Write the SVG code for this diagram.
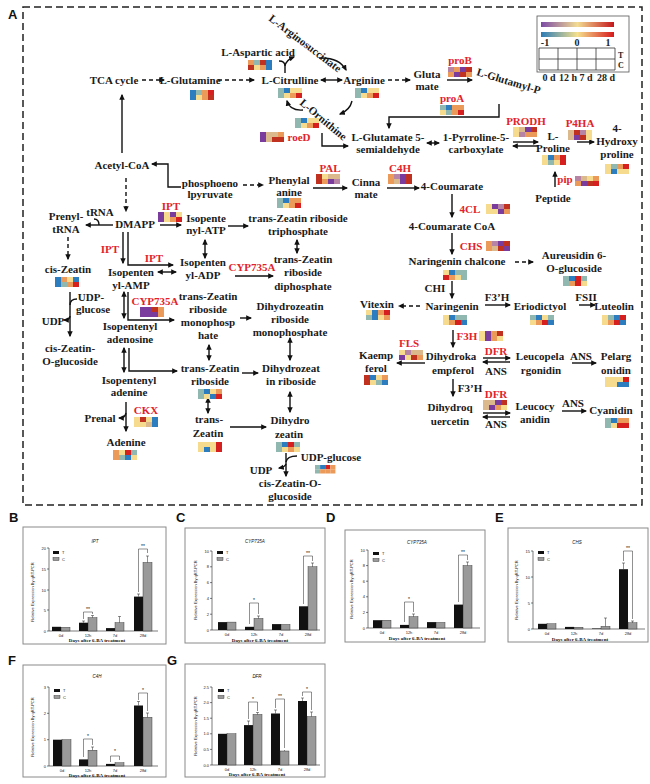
<svg xmlns="http://www.w3.org/2000/svg" width="650" height="784" viewBox="0 0 650 784">
<defs>
<style>
.n{font-family:"Liberation Serif",serif;font-weight:bold;font-size:11px;text-anchor:middle;fill:#1a1a1a}
.e{fill:#e3232b}
.hm rect{width:6px;height:5px}
.cb{fill:#2b7dc0}.ct{fill:#91b8b0}.cy{fill:#f6da8e}.co{fill:#eb9a5a}.cr{fill:#d61f1f}
.cp{fill:#7a3d9e}.cm{fill:#b784a5}.cn{fill:#dcb98c}.cd{fill:#c0311f}
.c{fill:none;stroke:#111;stroke-width:1.4}
.d{stroke-dasharray:4 3}
.ae{marker-end:url(#a)}
.as{marker-start:url(#a)}
.frame{fill:none;stroke:#222;stroke-width:1.5;stroke-dasharray:7 4}
.box{fill:#fff;stroke:#8a8a8a;stroke-width:1}
.ax{fill:none;stroke:#222;stroke-width:0.6}
.bt{fill:#111}
.bc{fill:#9a9a9a;stroke:#222;stroke-width:0.4}
.er{fill:none;stroke:#222;stroke-width:0.5}
.tk{font-family:"Liberation Sans",sans-serif;font-size:4px;fill:#222}
.tkr{text-anchor:end}
.tkm{text-anchor:middle}
.ti{font-family:"Liberation Sans",sans-serif;font-style:italic;font-size:4.5px;text-anchor:middle;fill:#111}
.xt{font-family:"Liberation Serif",serif;font-weight:bold;font-size:5px;text-anchor:middle;fill:#111}
.st{font-family:"Liberation Sans",sans-serif;font-size:5px;text-anchor:middle;fill:#111}
.pl{font-family:"Liberation Sans",sans-serif;font-weight:bold;font-size:13px;fill:#111}
.lg{font-family:"Liberation Serif",serif;font-weight:bold;font-size:10px;fill:#222}
.lgs{font-family:"Liberation Serif",serif;font-weight:bold;font-size:8px;fill:#222}
</style>
<marker id="a" viewBox="0 0 10 10" refX="8" refY="5" markerUnits="userSpaceOnUse" markerWidth="6" markerHeight="6" orient="auto-start-reverse"><path d="M0,0.5 L10,5 L0,9.5 z" fill="#111"/></marker>
<linearGradient id="g1" x1="0" x2="1" y1="0" y2="0"><stop offset="0" stop-color="#7b4aa6"/><stop offset="0.5" stop-color="#f3dc92"/><stop offset="1" stop-color="#c4161c"/></linearGradient>
<linearGradient id="g2" x1="0" x2="1" y1="0" y2="0"><stop offset="0" stop-color="#2c7bb6"/><stop offset="0.5" stop-color="#f5e08c"/><stop offset="1" stop-color="#d7191c"/></linearGradient>
</defs>
<rect width="650" height="784" fill="#fff"/>

<text class="pl" x="8" y="19">A</text>
<rect class="frame" x="23" y="7" width="619" height="498"/>

<g id="legend">
<rect x="537" y="16" width="92" height="56" fill="#fff" stroke="#555" stroke-width="0.8"/>
<rect x="541" y="22" width="73" height="5" fill="url(#g1)"/>
<rect x="541" y="32" width="73" height="5" fill="url(#g2)"/>
<text class="lg" x="545" y="46" text-anchor="middle">-1</text>
<text class="lg" x="577" y="46" text-anchor="middle">0</text>
<text class="lg" x="608" y="46" text-anchor="middle">1</text>
<path d="M539,48 H615 V70 H539 Z M539,59 H615 M558,48 V70 M577,48 V70 M596,48 V70" fill="none" stroke="#333" stroke-width="0.8"/>
<text class="lgs" x="618" y="58">T</text>
<text class="lgs" x="618" y="68">C</text>
<text class="lg" x="549" y="81" text-anchor="middle">0 d</text>
<text class="lg" x="568" y="81" text-anchor="middle">12 h</text>
<text class="lg" x="586" y="81" text-anchor="middle">7 d</text>
<text class="lg" x="606" y="81" text-anchor="middle">28 d</text>
</g>

<g id="connectors">
<path class="c d ae" d="M142,80 H164"/>
<path class="c d ae" d="M218,80 H254"/>
<path class="c as ae" d="M321,80 H342"/>
<path class="c d ae" d="M388,80 H410"/>
<path class="c ae" d="M447,80 H472"/>
<path class="c ae" d="M499,104 V117 H389 V128"/>
<path class="c ae" d="M122,153 V95"/>
<path class="c ae" d="M181,187 H168 V164 H152"/>
<path class="c d ae" d="M126,178 V211"/>
<path class="c d ae" d="M243,185 H263"/>
<path class="c ae" d="M313,188 H347"/>
<path class="c ae" d="M387,188 H419"/>
<path class="c ae" d="M452,194 V217"/>
<path class="c ae" d="M452,233 V254"/>
<path class="c d ae" d="M515,262 H533"/>
<path class="c ae" d="M452,281 V298"/>
<path class="c ae" d="M485,305 H510"/>
<path class="c ae" d="M579,305 H595"/>
<path class="c d ae" d="M420,306 H399"/>
<path class="c ae" d="M453,330 V347"/>
<path class="c ae" d="M425,363 H397"/>
<path class="c ae" d="M483,358 H510"/>
<path class="c ae" d="M510,362 H483"/>
<path class="c ae" d="M572,363 H596"/>
<path class="c ae" d="M453,379 V396"/>
<path class="c ae" d="M483,413 H510"/>
<path class="c ae" d="M510,417 H483"/>
<path class="c ae" d="M562,411 H586"/>
<path class="c ae" d="M555,187 V172"/>
<path class="c ae" d="M577,142 H594"/>
<path class="c ae" d="M513,142 H538"/>
<path class="c ae" d="M538,146 H513"/>
<path class="c as ae" d="M427,143 H439"/>
<path class="c ae" d="M322,133 V146 H348"/>
<path class="c ae" d="M319,58 Q339,57 346,70"/>
<path class="c ae" d="M352,101 Q350,110 340,114"/>
<path class="c ae" d="M303,110 Q290,111 287,101"/>
<path class="c" d="M285,73 V66 M279,61 Q285,61 285,66"/>
<path class="c ae" d="M285,66 Q286,60 294,57"/>
<path class="c ae" d="M113,225 H86"/>
<path class="c" d="M94,219 Q99,219 99,225"/>
<path class="c d ae" d="M68,237 V259"/>
<path class="c ae" d="M160,225 H181"/>
<path class="c ae" d="M228,226 H248"/>
<path class="c as ae" d="M205,240 V258"/>
<path class="c as ae" d="M297,240 V253"/>
<path class="c ae" d="M235,276 H273"/>
<path class="c ae" d="M123,232 V263"/>
<path class="c ae" d="M128,232 V265 H173"/>
<path class="c as ae" d="M158,272 H176"/>
<path class="c as ae" d="M124,292 V318"/>
<path class="c ae" d="M128,292 V320 H174"/>
<path class="c ae" d="M240,318 H251"/>
<path class="c ae" d="M70,292 V336"/>
<path class="c" d="M77,299 Q70,299 70,305"/>
<path class="c ae" d="M70,316 Q70,320 64,320"/>
<path class="c as ae" d="M124,348 V372"/>
<path class="c ae" d="M129,348 V371 H177"/>
<path class="c as ae" d="M209,345 V360"/>
<path class="c ae" d="M242,373 H258"/>
<path class="c as ae" d="M290,338 V360"/>
<path class="c as ae" d="M208,398 V413"/>
<path class="c as ae" d="M290,392 V412"/>
<path class="c ae" d="M230,427 H266"/>
<path class="c ae" d="M126,402 V431"/>
<path class="c ae" d="M126,413 Q125,418 119,418"/>
<path class="c ae" d="M286,453 V476"/>
<path class="c" d="M297,456 Q287,456 286,462"/>
<path class="c ae" d="M286,464 Q285,467 279,468"/>
</g>

<g id="n-tca"><text class="n" x="114" y="84">TCA cycle</text></g>
<g id="n-gln"><text class="n" x="190" y="84">L-Glutamine</text>
<g class="hm" transform="translate(190,90)"><rect class="cb"/><rect x="6" class="ct"/><rect x="12" class="co"/><rect x="18" class="cr"/><rect y="5" class="cb"/><rect x="6" y="5" class="cy"/><rect x="12" y="5" class="co"/><rect x="18" y="5" class="cd"/></g></g>
<g id="n-asp"><text class="n" x="258" y="56">L-Aspartic acid</text>
<g class="hm" transform="translate(248,60)"><rect class="co"/><rect x="6" class="ct"/><rect x="12" class="cd"/><rect x="18" class="cb"/><rect y="5" class="cd"/><rect x="6" y="5" class="cy"/><rect x="12" y="5" class="co"/><rect x="18" y="5" class="cb"/></g></g>
<g id="n-argsucc"><text class="n" style="text-anchor:start" transform="translate(268,20) rotate(37)">L-Arginosuccinate</text></g>
<g id="n-cit"><text class="n" x="290" y="84">L-Citrulline</text>
<g class="hm" transform="translate(278,88)"><rect class="ct"/><rect x="6" class="cb"/><rect x="12" class="cy"/><rect x="18" class="cy"/><rect y="5" class="ct"/><rect x="6" y="5" class="cy"/><rect x="12" y="5" class="co"/><rect x="18" y="5" class="cr"/></g></g>
<g id="n-arg"><text class="n" x="364" y="84">Arginine</text>
<g class="hm" transform="translate(355,88)"><rect class="ct"/><rect x="6" class="cb"/><rect x="12" class="cy"/><rect x="18" class="cy"/><rect y="5" class="ct"/><rect x="6" y="5" class="cy"/><rect x="12" y="5" class="co"/><rect x="18" y="5" class="cr"/></g></g>
<g id="n-orn"><text class="n" style="text-anchor:start" transform="translate(299,104) rotate(40)">L-Ornithine</text>
<g class="hm" transform="translate(295,118)"><rect class="ct"/><rect x="6" class="cb"/><rect x="12" class="cy"/><rect x="18" class="cy"/><rect y="5" class="ct"/><rect x="6" y="5" class="cy"/><rect x="12" y="5" class="co"/><rect x="18" y="5" class="cr"/></g></g>
<g id="e-roed"><text class="n e" x="299" y="141">roeD</text>
<g class="hm" transform="translate(260,132)"><rect class="cp"/><rect x="6" class="cn"/><rect x="12" class="cn"/><rect x="18" class="co"/><rect y="5" class="cp"/><rect x="6" y="5" class="cn"/><rect x="12" y="5" class="cd"/><rect x="18" y="5" class="cd"/></g></g>
<g id="n-glu"><text class="n" x="427" y="78">Gluta</text><text class="n" x="427" y="90">mate</text></g>
<g id="e-prob"><text class="n e" x="460" y="64">proB</text>
<g class="hm" transform="translate(448,67)"><rect class="cm"/><rect x="6" class="co"/><rect x="12" class="cp"/><rect x="18" class="cd"/><rect y="5" class="co"/><rect x="6" y="5" class="cp"/><rect x="12" y="5" class="cd"/><rect x="18" y="5" class="co"/></g></g>
<g id="n-glutp"><text class="n" style="text-anchor:start" transform="translate(476,75) rotate(17)">L-Glutamyl-P</text></g>
<g id="e-proa"><text class="n e" x="452" y="102">proA</text>
<g class="hm" transform="translate(440,105)"><rect class="ct"/><rect x="6" class="cb"/><rect x="12" class="co"/><rect x="18" class="co"/><rect y="5" class="cy"/><rect x="6" y="5" class="ct"/><rect x="12" y="5" class="co"/><rect x="18" y="5" class="cr"/></g></g>
<g id="n-gsa"><text class="n" x="388" y="141">L-Glutamate 5-</text><text class="n" x="388" y="153">semialdehyde</text></g>
<g id="n-p5c"><text class="n" x="476" y="141">1-Pyrroline-5-</text><text class="n" x="476" y="153">carboxylate</text></g>
<g id="e-prodh"><text class="n e" x="526" y="125">PRODH</text>
<g class="hm" transform="translate(513,127)"><rect class="cy"/><rect x="6" class="cn"/><rect x="12" class="cp"/><rect x="18" class="cd"/><rect y="5" class="cy"/><rect x="6" y="5" class="cm"/><rect x="12" y="5" class="co"/><rect x="18" y="5" class="co"/></g></g>
<g id="n-pro"><text class="n" x="553" y="140">L-</text><text class="n" x="553" y="152">Proline</text>
<g class="hm" transform="translate(542,155)"><rect class="cy"/><rect x="6" class="cb"/><rect x="12" class="co"/><rect x="18" class="cr"/><rect y="5" class="cy"/><rect x="6" y="5" class="ct"/><rect x="12" y="5" class="cy"/><rect x="18" y="5" class="cr"/></g></g>
<g id="e-p4ha"><text class="n e" x="580" y="127">P4HA</text>
<g class="hm" transform="translate(568,130)"><rect class="cn"/><rect x="6" class="cd"/><rect x="12" class="cm"/><rect x="18" class="cy"/><rect y="5" class="cn"/><rect x="6" y="5" class="cp"/><rect x="12" y="5" class="cd"/><rect x="18" y="5" class="cy"/></g></g>
<g id="n-hyp"><text class="n" x="617" y="132">4-</text><text class="n" x="617" y="145">Hydroxy</text><text class="n" x="617" y="158">proline</text>
<g class="hm" transform="translate(605,164)"><rect class="cy"/><rect x="6" class="ct"/><rect x="12" class="co"/><rect x="18" class="cr"/><rect y="5" class="cy"/><rect x="6" y="5" class="cb"/><rect x="12" y="5" class="cy"/><rect x="18" y="5" class="cy"/></g></g>
<g id="e-pip"><text class="n e" x="565" y="183">pip</text>
<g class="hm" transform="translate(575,176)"><rect class="cm"/><rect x="6" class="cn"/><rect x="12" class="cy"/><rect x="18" class="co"/><rect y="5" class="co"/><rect x="6" y="5" class="cp"/><rect x="12" y="5" class="cd"/><rect x="18" y="5" class="cr"/></g></g>
<g id="n-pep"><text class="n" x="553" y="202">Peptide</text></g>

<g id="n-acoa"><text class="n" x="122" y="169">Acetyl-CoA</text></g>
<g id="n-pepyr"><text class="n" x="210" y="187">phosphoeno</text><text class="n" x="210" y="198">lpyruvate</text></g>
<g id="n-phe"><text class="n" x="289" y="184">Phenylal</text><text class="n" x="289" y="196">anine</text>
<g class="hm" transform="translate(277,198)"><rect class="ct"/><rect x="6" class="cb"/><rect x="12" class="co"/><rect x="18" class="co"/><rect y="5" class="ct"/><rect x="6" y="5" class="cy"/><rect x="12" y="5" class="co"/><rect x="18" y="5" class="cr"/></g></g>
<g id="e-pal"><text class="n e" x="330" y="172">PAL</text>
<g class="hm" transform="translate(316,174)"><rect class="cd"/><rect x="6" class="cy"/><rect x="12" class="cn"/><rect x="18" class="cn"/><rect y="5" class="cd"/><rect x="6" y="5" class="co"/><rect x="12" y="5" class="cp"/><rect x="18" y="5" class="cm"/></g></g>
<g id="n-cin"><text class="n" x="366" y="186">Cinna</text><text class="n" x="366" y="198">mate</text></g>
<g id="e-c4h"><text class="n e" x="400" y="172">C4H</text>
<g class="hm" transform="translate(388,174)"><rect class="co"/><rect x="6" class="cm"/><rect x="12" class="cp"/><rect x="18" class="cd"/><rect y="5" class="co"/><rect x="6" y="5" class="cn"/><rect x="12" y="5" class="cp"/><rect x="18" y="5" class="cd"/></g></g>
<g id="n-cou"><text class="n" x="452" y="190">4-Coumarate</text></g>
<g id="e-4cl"><text class="n e" x="470" y="213">4CL</text>
<g class="hm" transform="translate(486,204)"><rect class="cy"/><rect x="6" class="cp"/><rect x="12" class="cm"/><rect x="18" class="cd"/><rect y="5" class="cy"/><rect x="6" y="5" class="cy"/><rect x="12" y="5" class="cp"/><rect x="18" y="5" class="co"/></g></g>
<g id="n-coucoa"><text class="n" x="452" y="230">4-Coumarate CoA</text></g>
<g id="e-chs"><text class="n e" x="471" y="250">CHS</text>
<g class="hm" transform="translate(486,241)"><rect class="co"/><rect x="6" class="cm"/><rect x="12" class="cp"/><rect x="18" class="cd"/><rect y="5" class="co"/><rect x="6" y="5" class="cn"/><rect x="12" y="5" class="cd"/><rect x="18" y="5" class="cp"/></g></g>
<g id="n-narch"><text class="n" x="457" y="265">Naringenin chalcone</text>
<g class="hm" transform="translate(443,270)"><rect class="cy"/><rect x="6" class="cb"/><rect x="12" class="ct"/><rect x="18" class="ct"/><rect y="5" class="cr"/><rect x="6" y="5" class="co"/><rect x="12" y="5" class="cy"/><rect x="18" y="5" class="ct"/></g></g>
<g id="n-aur"><text class="n" x="574" y="259">Aureusidin 6-</text><text class="n" x="574" y="272">O-glucoside</text>
<g class="hm" transform="translate(563,276)"><rect class="ct"/><rect x="6" class="cb"/><rect x="12" class="cr"/><rect x="18" class="ct"/><rect y="5" class="ct"/><rect x="6" y="5" class="co"/><rect x="12" y="5" class="cr"/><rect x="18" y="5" class="cy"/></g></g>
<g id="e-chi"><text class="n" x="435" y="292">CHI</text></g>
<g id="n-nar"><text class="n" x="452" y="310">Naringenin</text>
<g class="hm" transform="translate(443,315)"><rect class="cy"/><rect x="6" class="cb"/><rect x="12" class="ct"/><rect x="18" class="ct"/><rect y="5" class="cy"/><rect x="6" y="5" class="co"/><rect x="12" y="5" class="cr"/><rect x="18" y="5" class="cb"/></g></g>
<g id="e-f3h1"><text class="n" x="497" y="301">F3’H</text></g>
<g id="n-eri"><text class="n" x="540" y="310">Eriodictyol</text>
<g class="hm" transform="translate(530,315)"><rect class="ct"/><rect x="6" class="cb"/><rect x="12" class="cy"/><rect x="18" class="ct"/><rect y="5" class="cy"/><rect x="6" y="5" class="co"/><rect x="12" y="5" class="cr"/><rect x="18" y="5" class="cb"/></g></g>
<g id="e-fsii"><text class="n" x="586" y="301">FSII</text></g>
<g id="n-lut"><text class="n" x="614" y="310">Luteolin</text>
<g class="hm" transform="translate(602,315)"><rect class="cy"/><rect x="6" class="ct"/><rect x="12" class="cb"/><rect x="18" class="cr"/><rect y="5" class="cy"/><rect x="6" y="5" class="co"/><rect x="12" y="5" class="cr"/><rect x="18" y="5" class="cb"/></g></g>
<g id="n-vit"><text class="n" x="377" y="308">Vitexin</text>
<g class="hm" transform="translate(366,310)"><rect class="cy"/><rect x="6" class="cb"/><rect x="12" class="co"/><rect x="18" class="cr"/><rect y="5" class="ct"/><rect x="6" y="5" class="cb"/><rect x="12" y="5" class="cy"/><rect x="18" y="5" class="co"/></g></g>
<g id="e-f3h"><text class="n e" x="467" y="340">F3H</text>
<g class="hm" transform="translate(479,331)"><rect class="cy"/><rect x="6" class="cp"/><rect x="12" class="co"/><rect x="18" class="cd"/><rect y="5" class="cy"/><rect x="6" y="5" class="cp"/><rect x="12" y="5" class="co"/><rect x="18" y="5" class="cy"/></g></g>
<g id="n-dhk"><text class="n" x="451" y="360">Dihydroka</text><text class="n" x="453" y="374">empferol</text></g>
<g id="e-fls"><text class="n e" x="409" y="347">FLS</text>
<g class="hm" transform="translate(399,350)"><rect class="cy"/><rect x="6" class="cm"/><rect x="12" class="cn"/><rect x="18" class="cn"/><rect y="5" class="cp"/><rect x="6" y="5" class="cy"/><rect x="12" y="5" class="cd"/><rect x="18" y="5" class="co"/></g></g>
<g id="n-kae"><text class="n" x="376" y="359">Kaemp</text><text class="n" x="376" y="372">ferol</text>
<g class="hm" transform="translate(364,375)"><rect class="cd"/><rect x="6" class="cb"/><rect x="12" class="cy"/><rect x="18" class="co"/><rect y="5" class="cd"/><rect x="6" y="5" class="cy"/><rect x="12" y="5" class="ct"/><rect x="18" y="5" class="cb"/></g></g>
<g id="e-dfr1"><text class="n e" x="496" y="355">DFR</text><text class="n" x="496" y="375">ANS</text></g>
<g id="n-leupel"><text class="n" x="540" y="360">Leucopela</text><text class="n" x="541" y="374">rgonidin</text></g>
<g id="e-ans1"><text class="n" x="581" y="360">ANS</text></g>
<g id="n-pel"><text class="n" x="616" y="360">Pelarg</text><text class="n" x="616" y="374">onidin</text>
<g class="hm" transform="translate(605,377)"><rect class="cy"/><rect x="6" class="cy"/><rect x="12" class="cy"/><rect x="18" class="cr"/><rect y="5" class="cy"/><rect x="6" y="5" class="cy"/><rect x="12" y="5" class="cb"/><rect x="18" y="5" class="cb"/></g></g>
<g id="e-f3h2"><text class="n" x="470" y="392">F3’H</text></g>
<g id="n-dhq"><text class="n" x="450" y="411">Dihydroq</text><text class="n" x="450" y="425">uercetin</text></g>
<g id="e-dfr2"><text class="n e" x="496" y="398">DFR</text><text class="n" x="496" y="428">ANS</text>
<g class="hm" transform="translate(483,400)"><rect class="cn"/><rect x="6" class="cn"/><rect x="12" class="cp"/><rect x="18" class="cd"/><rect y="5" class="cn"/><rect x="6" y="5" class="cp"/><rect x="12" y="5" class="co"/><rect x="18" y="5" class="cy"/></g></g>
<g id="n-leucya"><text class="n" x="535" y="410">Leucocy</text><text class="n" x="535" y="423">anidin</text></g>
<g id="e-ans2"><text class="n" x="573" y="407">ANS</text></g>
<g id="n-cya"><text class="n" x="611" y="414">Cyanidin</text>
<g class="hm" transform="translate(605,418)"><rect class="ct"/><rect x="6" class="cb"/><rect x="12" class="co"/><rect x="18" class="co"/><rect y="5" class="ct"/><rect x="6" y="5" class="cy"/><rect x="12" y="5" class="cr"/><rect x="18" y="5" class="cr"/></g></g>

<g id="n-dmapp"><text class="n" x="135" y="228">DMAPP</text></g>
<g id="n-prtrna"><text class="n" x="66" y="220">Prenyl-</text><text class="n" x="66" y="233">tRNA</text></g>
<g id="n-trna"><text class="n" x="100" y="216">tRNA</text></g>
<g id="n-cisz"><text class="n" x="68" y="273">cis-Zeatin</text>
<g class="hm" transform="translate(55,277)"><rect class="cb"/><rect x="6" class="co"/><rect x="12" class="cy"/><rect x="18" class="cb"/><rect y="5" class="cb"/><rect x="6" y="5" class="ct"/><rect x="12" y="5" class="co"/><rect x="18" y="5" class="cr"/></g></g>
<g id="e-ipt1"><text class="n e" x="171" y="210">IPT</text>
<g class="hm" transform="translate(158,212)"><rect class="cp"/><rect x="6" class="cy"/><rect x="12" class="cp"/><rect x="18" class="cy"/><rect y="5" class="cp"/><rect x="6" y="5" class="cy"/><rect x="12" y="5" class="co"/><rect x="18" y="5" class="cr"/></g></g>
<g id="n-ipatp"><text class="n" x="206" y="222">Isopente</text><text class="n" x="206" y="234">nyl-ATP</text></g>
<g id="n-tzrtp"><text class="n" x="298" y="222">trans-Zeatin riboside</text><text class="n" x="298" y="235">triphosphate</text></g>
<g id="e-ipt2"><text class="n e" x="110" y="253">IPT</text></g>
<g id="e-ipt3"><text class="n e" x="154" y="262">IPT</text></g>
<g id="n-ipamp"><text class="n" x="131" y="276">Isopenten</text><text class="n" x="131" y="289">yl-AMP</text></g>
<g id="n-ipadp"><text class="n" x="203" y="266">Isopenten</text><text class="n" x="203" y="279">yl-ADP</text></g>
<g id="e-cyp1"><text class="n e" x="252" y="271">CYP735A</text></g>
<g id="n-tzrdp"><text class="n" x="303" y="263">trans-Zeatin</text><text class="n" x="303" y="276">riboside</text><text class="n" x="303" y="290">diphosphate</text></g>
<g id="n-udpg1"><text class="n" x="91" y="301">UDP-</text><text class="n" x="93" y="313">glucose</text></g>
<g id="n-udp1"><text class="n" x="53" y="325">UDP</text></g>
<g id="e-cyp2"><text class="n e" x="155" y="305">CYP735A</text>
<g class="hm" transform="translate(140,307)"><rect class="cp"/><rect x="6" class="cp"/><rect x="12" class="cd"/><rect x="18" class="co"/><rect y="5" class="cp"/><rect x="6" y="5" class="cp"/><rect x="12" y="5" class="cp"/><rect x="18" y="5" class="co"/></g></g>
<g id="n-tzrmp"><text class="n" x="208" y="300">trans-Zeatin</text><text class="n" x="208" y="313">riboside</text><text class="n" x="208" y="326">monophosp</text><text class="n" x="208" y="339">hate</text></g>
<g id="n-dzrmp"><text class="n" x="290" y="310">Dihydrozeatin</text><text class="n" x="290" y="323">riboside</text><text class="n" x="290" y="336">monophosphate</text></g>
<g id="n-ipado"><text class="n" x="130" y="330">Isopentenyl</text><text class="n" x="130" y="343">adenosine</text></g>
<g id="n-czog1"><text class="n" x="70" y="352">cis-Zeatin-</text><text class="n" x="70" y="365">O-glucoside</text></g>
<g id="n-ipade"><text class="n" x="129" y="384">Isopentenyl</text><text class="n" x="129" y="396">adenine</text></g>
<g id="n-tzr"><text class="n" x="210" y="372">trans-Zeatin</text><text class="n" x="210" y="385">riboside</text>
<g class="hm" transform="translate(198,389)"><rect class="ct"/><rect x="6" class="cb"/><rect x="12" class="cy"/><rect x="18" class="co"/><rect y="5" class="ct"/><rect x="6" y="5" class="cy"/><rect x="12" y="5" class="cb"/><rect x="18" y="5" class="cr"/></g></g>
<g id="n-dzr"><text class="n" x="291" y="372">Dihydrozeat</text><text class="n" x="291" y="385">in riboside</text></g>
<g id="e-ckx"><text class="n e" x="146" y="414">CKX</text>
<g class="hm" transform="translate(134,417)"><rect class="cy"/><rect x="6" class="cd"/><rect x="12" class="cy"/><rect x="18" class="cb"/><rect y="5" class="cy"/><rect x="6" y="5" class="cy"/><rect x="12" y="5" class="cn"/><rect x="18" y="5" class="cb"/></g></g>
<g id="n-prenal"><text class="n" x="100" y="422">Prenal</text></g>
<g id="n-ade"><text class="n" x="126" y="446">Adenine</text>
<g class="hm" transform="translate(113,450)"><rect class="co"/><rect x="6" class="cy"/><rect x="12" class="cr"/><rect x="18" class="ct"/><rect y="5" class="co"/><rect x="6" y="5" class="ct"/><rect x="12" y="5" class="cb"/><rect x="18" y="5" class="cy"/></g></g>
<g id="n-tz"><text class="n" x="209" y="423">trans-</text><text class="n" x="208" y="437">Zeatin</text>
<g class="hm" transform="translate(198,442)"><rect class="cy"/><rect x="6" class="cy"/><rect x="12" class="cy"/><rect x="18" class="cr"/><rect y="5" class="cy"/><rect x="6" y="5" class="cb"/><rect x="12" y="5" class="cy"/><rect x="18" y="5" class="cr"/></g></g>
<g id="n-dz"><text class="n" x="290" y="424">Dihydro</text><text class="n" x="289" y="438">zeatin</text>
<g class="hm" transform="translate(276,442)"><rect class="ct"/><rect x="6" class="cb"/><rect x="12" class="cr"/><rect x="18" class="ct"/><rect y="5" class="ct"/><rect x="6" y="5" class="cy"/><rect x="12" y="5" class="co"/><rect x="18" y="5" class="cy"/></g></g>
<g id="n-udpg2"><text class="n" x="331" y="461">UDP-glucose</text>
<g class="hm" transform="translate(315,465) scale(0.85)"><rect class="ct"/><rect x="6" class="cb"/><rect x="12" class="cr"/><rect x="18" class="co"/><rect y="5" class="ct"/><rect x="6" y="5" class="co"/><rect x="12" y="5" class="co"/><rect x="18" y="5" class="co"/></g></g>
<g id="n-udp2"><text class="n" x="261" y="474">UDP</text></g>
<g id="n-czog2"><text class="n" x="290" y="487">cis-Zeatin-O-</text><text class="n" x="290" y="500">glucoside</text></g>

<!-- Chart B -->
<g id="chartB">
<text class="pl" x="9" y="522">B</text>
<rect class="box" x="23" y="527" width="143" height="117"/>
<text class="ti" x="95" y="543">IPT</text>
<path class="ax" d="M49,548 V631 H158 M47,548 H49 M47,569 H49 M47,590 H49 M47,610 H49 M47,631 H49"/>
<text class="tk tkr" x="46" y="549.5">20</text><text class="tk tkr" x="46" y="570.5">15</text><text class="tk tkr" x="46" y="591.5">10</text><text class="tk tkr" x="46" y="611.5">5</text><text class="tk tkr" x="46" y="632.5">0</text>
<rect class="bt" x="53" y="551" width="6" height="3"/><rect class="bc" x="53" y="557.5" width="6" height="3"/>
<text class="tk" x="62" y="554">T</text><text class="tk" x="62" y="560.5">C</text>
<rect class="bt" x="52" y="626.8" width="9" height="4.2"/><rect class="bc" x="61" y="627.3" width="9" height="3.7"/>
<rect class="bt" x="79" y="622.7" width="9" height="8.3"/><rect class="bc" x="88" y="617.7" width="9" height="13.3"/>
<rect class="bt" x="106" y="628.1" width="9" height="2.9"/><rect class="bc" x="115" y="622.7" width="9" height="8.3"/>
<rect class="bt" x="134" y="596.6" width="9" height="34.4"/><rect class="bc" x="143" y="562.5" width="9" height="68.5"/>
<path class="er" d="M83.5,622.7 V621 M82,621 H85 M92.5,617.7 V615.5 M91,615.5 H94 M119.5,622.7 V616.5 M118,616.5 H121 M138.5,596.6 V594 M137,594 H140 M147.5,562.5 V556 M146,556 H149"/>
<path class="er" d="M83.5,619 V612 H92.5 V614 M138.5,592 V549 H147.5 V553"/>
<text class="st" x="88" y="611">**</text><text class="st" x="143" y="548">**</text>
<text class="tk tkm" x="61" y="637">0d</text><text class="tk tkm" x="88" y="637">12h</text><text class="tk tkm" x="115" y="637">7d</text><text class="tk tkm" x="143" y="637">28d</text>
<text class="xt" x="97" y="642">Days after 6-BA treatment</text>
<text class="tk tkm" transform="translate(34,592) rotate(-90)">Relative Expression By qRT-PCR</text>
</g>

<!-- Chart C -->
<g id="chartC">
<text class="pl" x="176" y="522">C</text>
<rect class="box" x="185" y="528" width="140" height="115"/>
<text class="ti" x="255" y="543">CYP735A</text>
<path class="ax" d="M212,551 V630 H320 M210,551 H212 M210,566.8 H212 M210,582.6 H212 M210,598.4 H212 M210,614.2 H212 M210,630 H212"/>
<text class="tk tkr" x="209" y="552.5">10</text><text class="tk tkr" x="209" y="568.3">8</text><text class="tk tkr" x="209" y="584.1">6</text><text class="tk tkr" x="209" y="599.9">4</text><text class="tk tkr" x="209" y="615.7">2</text><text class="tk tkr" x="209" y="631.5">0</text>
<rect class="bt" x="217" y="551" width="6" height="3"/><rect class="bc" x="217" y="557.5" width="6" height="3"/>
<text class="tk" x="226" y="554">T</text><text class="tk" x="226" y="560.5">C</text>
<rect class="bt" x="218" y="622.1" width="9" height="7.9"/><rect class="bc" x="227" y="622.1" width="9" height="7.9"/>
<rect class="bt" x="245" y="626.8" width="9" height="3.2"/><rect class="bc" x="254" y="618.5" width="9" height="11.5"/>
<rect class="bt" x="272" y="624.1" width="9" height="5.9"/><rect class="bc" x="281" y="624.5" width="9" height="5.5"/>
<rect class="bt" x="299" y="606.3" width="9" height="23.7"/><rect class="bc" x="308" y="566.8" width="9" height="63.2"/>
<path class="er" d="M258.5,618.5 V616 M257,616 H260 M312.5,566.8 V563 M311,563 H314"/>
<path class="er" d="M249.5,624 V603 H258.5 V614 M303.5,604 V556 H312.5 V561"/>
<text class="st" x="254" y="602">*</text><text class="st" x="308" y="555">**</text>
<text class="tk tkm" x="227" y="636">0d</text><text class="tk tkm" x="254" y="636">12h</text><text class="tk tkm" x="281" y="636">7d</text><text class="tk tkm" x="308" y="636">28d</text>
<text class="xt" x="260" y="641.5">Days after 6-BA treatment</text>
<text class="tk tkm" transform="translate(197,590) rotate(-90)">Relative Expression By qRT-PCR</text>
</g>

<!-- Chart D -->
<g id="chartD">
<text class="pl" x="326" y="522">D</text>
<rect class="box" x="345" y="530" width="140" height="112"/>
<text class="ti" x="417" y="544">CYP735A</text>
<path class="ax" d="M368,550 V628 H480 M366,550 H368 M366,565.6 H368 M366,581.2 H368 M366,596.8 H368 M366,612.4 H368 M366,628 H368"/>
<text class="tk tkr" x="365" y="551.5">10</text><text class="tk tkr" x="365" y="567.1">8</text><text class="tk tkr" x="365" y="582.7">6</text><text class="tk tkr" x="365" y="598.3">4</text><text class="tk tkr" x="365" y="613.9">2</text><text class="tk tkr" x="365" y="629.5">0</text>
<rect class="bt" x="373" y="552" width="6" height="3"/><rect class="bc" x="373" y="558.5" width="6" height="3"/>
<text class="tk" x="382" y="555">T</text><text class="tk" x="382" y="561.5">C</text>
<rect class="bt" x="373" y="620.2" width="9" height="7.8"/><rect class="bc" x="382" y="620.2" width="9" height="7.8"/>
<rect class="bt" x="400" y="624.9" width="9" height="3.1"/><rect class="bc" x="409" y="616.7" width="9" height="11.3"/>
<rect class="bt" x="427" y="622.1" width="9" height="5.9"/><rect class="bc" x="436" y="622.5" width="9" height="5.5"/>
<rect class="bt" x="454" y="604.6" width="9" height="23.4"/><rect class="bc" x="463" y="565.6" width="9" height="62.4"/>
<path class="er" d="M413.5,616.7 V614 M412,614 H415 M467.5,565.6 V562 M466,562 H469"/>
<path class="er" d="M404.5,622 V602 H413.5 V612 M458.5,602 V555 H467.5 V560"/>
<text class="st" x="409" y="601">*</text><text class="st" x="463" y="554">**</text>
<text class="tk tkm" x="382" y="634">0d</text><text class="tk tkm" x="409" y="634">12h</text><text class="tk tkm" x="436" y="634">7d</text><text class="tk tkm" x="463" y="634">28d</text>
<text class="xt" x="417" y="640">Days after 6-BA treatment</text>
<text class="tk tkm" transform="translate(353,589) rotate(-90)">Relative Expression By qRT-PCR</text>
</g>

<!-- Chart E -->
<g id="chartE">
<text class="pl" x="495" y="522">E</text>
<rect class="box" x="508" y="528" width="140" height="114"/>
<text class="ti" x="577" y="544">CHS</text>
<path class="ax" d="M533,551 V629 H645 M531,551 H533 M531,577 H533 M531,603 H533 M531,629 H533"/>
<text class="tk tkr" x="530" y="552.5">15</text><text class="tk tkr" x="530" y="578.5">10</text><text class="tk tkr" x="530" y="604.5">5</text><text class="tk tkr" x="530" y="630.5">0</text>
<rect class="bt" x="538" y="551" width="6" height="3"/><rect class="bc" x="538" y="557.5" width="6" height="3"/>
<text class="tk" x="547" y="554">T</text><text class="tk" x="547" y="560.5">C</text>
<rect class="bt" x="538" y="623.8" width="9" height="5.2"/><rect class="bc" x="547" y="623.8" width="9" height="5.2"/>
<rect class="bt" x="565" y="626.9" width="9" height="2.1"/><rect class="bc" x="574" y="627.2" width="9" height="1.8"/>
<rect class="bt" x="592" y="628.5" width="9" height="0.5"/><rect class="bc" x="601" y="626.4" width="9" height="2.6"/>
<rect class="bt" x="619" y="569.2" width="9" height="59.8"/><rect class="bc" x="628" y="622.8" width="9" height="6.2"/>
<path class="er" d="M605.5,626.4 V618 M604,618 H607 M623.5,569.2 V563 M622,563 H625 M632.5,622.8 V621 M631,621 H634"/>
<path class="er" d="M623.5,561 V551 H632.5 V619"/>
<text class="st" x="628" y="550">**</text>
<text class="tk tkm" x="547" y="635">0d</text><text class="tk tkm" x="574" y="635">12h</text><text class="tk tkm" x="601" y="635">7d</text><text class="tk tkm" x="628" y="635">28d</text>
<text class="xt" x="580" y="641">Days after 6-BA treatment</text>
<text class="tk tkm" transform="translate(518,590) rotate(-90)">Relative Expression By qRT-PCR</text>
</g>

<!-- Chart F -->
<g id="chartF">
<text class="pl" x="8" y="665">F</text>
<rect class="box" x="23" y="665" width="143" height="112"/>
<text class="ti" x="97" y="678">C4H</text>
<path class="ax" d="M49,687 V766 H158 M47,687 H49 M47,713.3 H49 M47,739.7 H49 M47,766 H49"/>
<text class="tk tkr" x="46" y="688.5">3</text><text class="tk tkr" x="46" y="714.8">2</text><text class="tk tkr" x="46" y="741.2">1</text><text class="tk tkr" x="46" y="767.5">0</text>
<rect class="bt" x="54" y="689" width="6" height="3"/><rect class="bc" x="54" y="695.5" width="6" height="3"/>
<text class="tk" x="63" y="692">T</text><text class="tk" x="63" y="698.5">C</text>
<rect class="bt" x="53" y="739.7" width="9" height="26.3"/><rect class="bc" x="62" y="739.7" width="9" height="26.3"/>
<rect class="bt" x="79" y="759.4" width="9" height="6.6"/><rect class="bc" x="88" y="750.2" width="9" height="15.8"/>
<rect class="bt" x="106" y="763.9" width="9" height="2.1"/><rect class="bc" x="115" y="762.8" width="9" height="3.2"/>
<rect class="bt" x="134" y="705.5" width="9" height="60.5"/><rect class="bc" x="143" y="717.3" width="9" height="48.7"/>
<path class="er" d="M92.5,750.2 V747 M91,747 H94 M138.5,705.5 V701.5 M137,701.5 H140 M147.5,717.3 V713 M146,713 H149"/>
<path class="er" d="M83.5,757 V739 H92.5 V745 M110.5,762 V756 H119.5 V760 M138.5,700 V693 H147.5 V711"/>
<text class="st" x="88" y="738">*</text><text class="st" x="115" y="753">*</text><text class="st" x="143" y="692">*</text>
<text class="tk tkm" x="62" y="772">0d</text><text class="tk tkm" x="88" y="772">12h</text><text class="tk tkm" x="115" y="772">7d</text><text class="tk tkm" x="143" y="772">28d</text>
<text class="xt" x="97" y="776.5">Days after 6-BA treatment</text>
<text class="tk tkm" transform="translate(34,727) rotate(-90)">Relative Expression By qRT-PCR</text>
</g>

<!-- Chart G -->
<g id="chartG">
<text class="pl" x="167" y="665">G</text>
<rect class="box" x="185" y="664" width="140" height="113"/>
<text class="ti" x="257" y="678">DFR</text>
<path class="ax" d="M212,687 V765 H320 M210,687 H212 M210,702.6 H212 M210,718.2 H212 M210,733.8 H212 M210,749.4 H212 M210,765 H212"/>
<text class="tk tkr" x="209" y="688.5">2.5</text><text class="tk tkr" x="209" y="704.1">2.0</text><text class="tk tkr" x="209" y="719.7">1.5</text><text class="tk tkr" x="209" y="735.3">1.0</text><text class="tk tkr" x="209" y="750.9">0.5</text><text class="tk tkr" x="209" y="766.5">0.0</text>
<rect class="bt" x="218" y="689" width="6" height="3"/><rect class="bc" x="218" y="695.5" width="6" height="3"/>
<text class="tk" x="227" y="692">T</text><text class="tk" x="227" y="698.5">C</text>
<rect class="bt" x="218" y="733.8" width="9" height="31.2"/><rect class="bc" x="227" y="733.8" width="9" height="31.2"/>
<rect class="bt" x="244" y="725.1" width="9" height="39.9"/><rect class="bc" x="253" y="714.5" width="9" height="50.5"/>
<rect class="bt" x="271" y="713.5" width="9" height="51.5"/><rect class="bc" x="280" y="751" width="9" height="14"/>
<rect class="bt" x="298" y="701" width="9" height="64"/><rect class="bc" x="307" y="716.6" width="9" height="48.4"/>
<path class="er" d="M248.5,725.1 V721 M247,721 H250 M257.5,714.5 V712.5 M256,712.5 H259 M275.5,713.5 V710 M274,710 H277 M284.5,751 V750 M302.5,701 V698 M301,698 H304 M311.5,716.6 V712 M310,712 H313"/>
<path class="er" d="M248.5,719 V702 H257.5 V711 M275.5,708 V699 H284.5 V748 M302.5,696 V692 H311.5 V710"/>
<text class="st" x="253" y="701">*</text><text class="st" x="280" y="698">**</text><text class="st" x="307" y="691">*</text>
<text class="tk tkm" x="227" y="771">0d</text><text class="tk tkm" x="253" y="771">12h</text><text class="tk tkm" x="280" y="771">7d</text><text class="tk tkm" x="307" y="771">28d</text>
<text class="xt" x="257" y="776">Days after 6-BA treatment</text>
<text class="tk tkm" transform="translate(197,726) rotate(-90)">Relative Expression By qRT-PCR</text>
</g>
</svg>
